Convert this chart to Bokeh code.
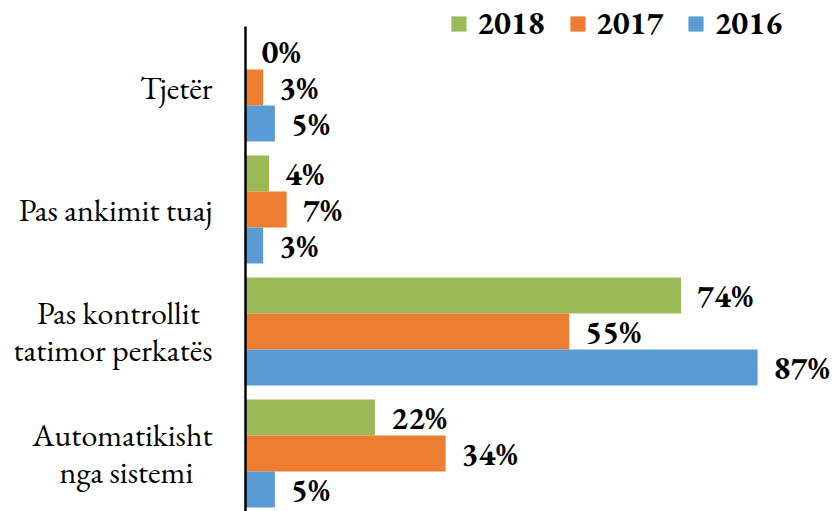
from bokeh.plotting import figure
from bokeh.models import ColumnDataSource, FixedTicker, Legend, LegendItem, Range1d
from bokeh.embed import file_html
from bokeh.resources import INLINE

NB = "\u00a0"
categories = ["Tjetër", "Pas ankimit tuaj",
              "Pas kontrollit" + NB * 2 + "\ntatimor perkatës",
              "Automatikisht\nnga sistemi" + NB * 3]
years = ["2018", "2017", "2016"]
v2018 = [0, 4, 74, 22]
v2017 = [3, 7, 55, 34]
v2016 = [5, 3, 87, 5]
colors = ["#9BBB59", "#ED7D31", "#5B9BD5"]

FONT = "EB Garamond"
n = len(categories)
pos = [n - 1 - i for i in range(n)]  # first category at top
bar_h = 0.295
offsets = [bar_h, 0.0, -bar_h]
top = 3.5 + 26 / 122

p = figure(width=833, height=511, output_backend="svg", toolbar_location=None,
           x_range=Range1d(0, 99.9), y_range=Range1d(-0.475, top),
           min_border_left=245, min_border_right=0, min_border_top=0, min_border_bottom=0)

items = []
for vals, yr, col, off in zip([v2018, v2017, v2016], years, colors, offsets):
    src = ColumnDataSource(dict(y=[q + off for q in pos], v=vals,
                                lab=[f"{x}%" for x in vals],
                                f=[FONT] * len(vals)))
    r = p.hbar(y="y", right="v", left=0, height=bar_h, source=src,
               fill_color=col, line_color=None)
    p.text(x="v", y="y", text="lab", source=src, x_offset=16,
           text_baseline="middle", text_align="left",
           text_font="f", text_font_style="bold",
           text_font_size="32px", text_color="#000000")
    items.append(LegendItem(label=yr, renderers=[r]))

legend = Legend(items=items, orientation="horizontal", location=(204, 467),
                label_text_font=FONT, label_text_font_style="bold",
                label_text_font_size="32px", label_text_color="#000000",
                glyph_width=19, glyph_height=19, label_standoff=9, spacing=23,
                padding=0, margin=0, border_line_color=None,
                background_fill_alpha=0)
p.add_layout(legend, "center")

p.xaxis.visible = False
p.xgrid.visible = False
p.ygrid.visible = False
p.outline_line_color = None

ax = p.yaxis[0]
ax.bounds = (-0.475, 3.5)
ax.ticker = FixedTicker(ticks=pos)
ax.major_label_overrides = {float(q): c for q, c in zip(pos, categories)}
ax.major_tick_line_color = None
ax.minor_tick_line_color = None
ax.axis_line_color = "#000000"
ax.axis_line_width = 2.5
ax.major_label_standoff = 27
ax.major_label_text_font = FONT
ax.major_label_text_font_size = "32px"
ax.major_label_text_line_height = 0.9
ax.major_label_text_color = "#000000"

open("out.html", "w").write(file_html(p, INLINE))
